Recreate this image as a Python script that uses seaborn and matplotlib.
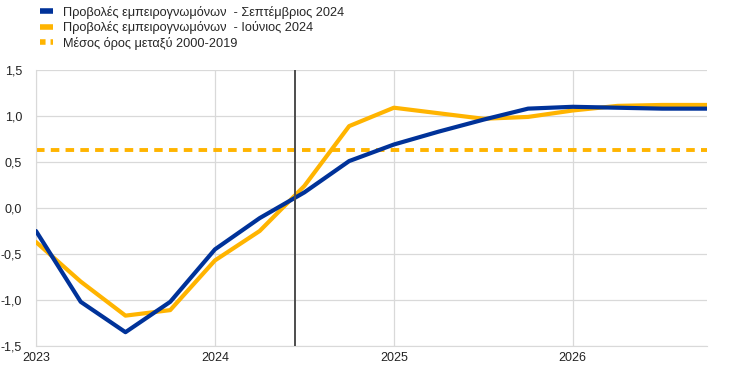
import matplotlib
matplotlib.use('Agg')
import numpy as np
import pandas as pd
import seaborn as sns
import matplotlib.pyplot as plt
from matplotlib.lines import Line2D

# quarterly points, 2023Q1 .. 2026Q4
quarters = [2023.0, 2023.25, 2023.5, 2023.75,
            2024.0, 2024.25, 2024.5, 2024.75,
            2025.0, 2025.25, 2025.5, 2025.75,
            2026.0, 2026.25, 2026.5, 2026.75]
sept_2024 = [-0.25, -1.02, -1.35, -1.02,
             -0.45, -0.11, 0.17, 0.51,
             0.69, 0.83, 0.96, 1.08,
             1.10, 1.09, 1.08, 1.08]
june_2024 = [-0.37, -0.80, -1.17, -1.11,
             -0.57, -0.25, 0.24, 0.89,
             1.09, 1.03, 0.97, 0.99,
             1.06, 1.11, 1.12, 1.12]
avg_2000_2019 = 0.63
cutoff = 2024.45

label_sept = 'Προβολές εμπειρογνωμόνων  - Σεπτέμβριος 2024'
label_june = 'Προβολές εμπειρογνωμόνων  - Ιούνιος 2024'
label_avg = 'Μέσος όρος μεταξύ 2000-2019'

blue = '#003299'
yellow = '#FFB400'

df = pd.DataFrame({
    'date': quarters * 2,
    'value': sept_2024 + june_2024,
    'series': [label_sept] * len(quarters) + [label_june] * len(quarters),
})

sns.set_style('white')
plt.rcParams['font.family'] = ['Liberation Sans', 'DejaVu Sans']

fig = plt.figure(figsize=(7.43, 3.74), dpi=100)
ax = fig.add_axes([36 / 743, 28 / 374, (707 - 36) / 743, (346 - 70) / 374])

ax.axhline(avg_2000_2019, color=yellow, lw=2.8, ls=(0, (2.2, 1.6)), zorder=2)
sns.lineplot(data=df, x='date', y='value', hue='series',
             palette={label_sept: blue, label_june: yellow},
             hue_order=[label_june, label_sept],
             lw=3, ax=ax, legend=False, zorder=3)
ax.axvline(cutoff, color='#4d4d4d', lw=1.4, zorder=4)

ax.set_xlim(2023, 2026.75)
ax.set_ylim(-1.5, 1.5)
ax.set_xticks([2023, 2024, 2025, 2026])
ax.set_xticklabels(['2023', '2024', '2025', '2026'])
yt = np.arange(-1.5, 1.51, 0.5)
ax.set_yticks(yt)
ax.set_yticklabels([f'{v:.1f}'.replace('.', ',') for v in yt])
ax.grid(True, color='#d9d9d9', lw=0.9)
ax.set_axisbelow(True)
for s in ['top', 'right']:
    ax.spines[s].set_visible(False)
ax.spines['left'].set_color('#d9d9d9')
ax.spines['bottom'].set_color('#d9d9d9')
ax.tick_params(axis='both', length=0, labelsize=9, colors='#222222')
ax.tick_params(axis='x', pad=4)
ax.tick_params(axis='y', pad=10)
ax.set_xlabel('')
ax.set_ylabel('')

handles = [
    Line2D([], [], color=blue, lw=4, solid_capstyle='butt'),
    Line2D([], [], color=yellow, lw=4, solid_capstyle='butt'),
    Line2D([], [], color=yellow, lw=4, ls=(0, (1.0, 0.9)), dash_capstyle='butt'),
]
fig.legend(handles, [label_sept, label_june, label_avg],
           loc='upper left', bbox_to_anchor=(34 / 743, 1.0),
           frameon=False, fontsize=9.2, handlelength=1.05,
           handletextpad=0.75, labelspacing=0.2, borderaxespad=0.05)

fig.savefig('out.png', dpi=100)
